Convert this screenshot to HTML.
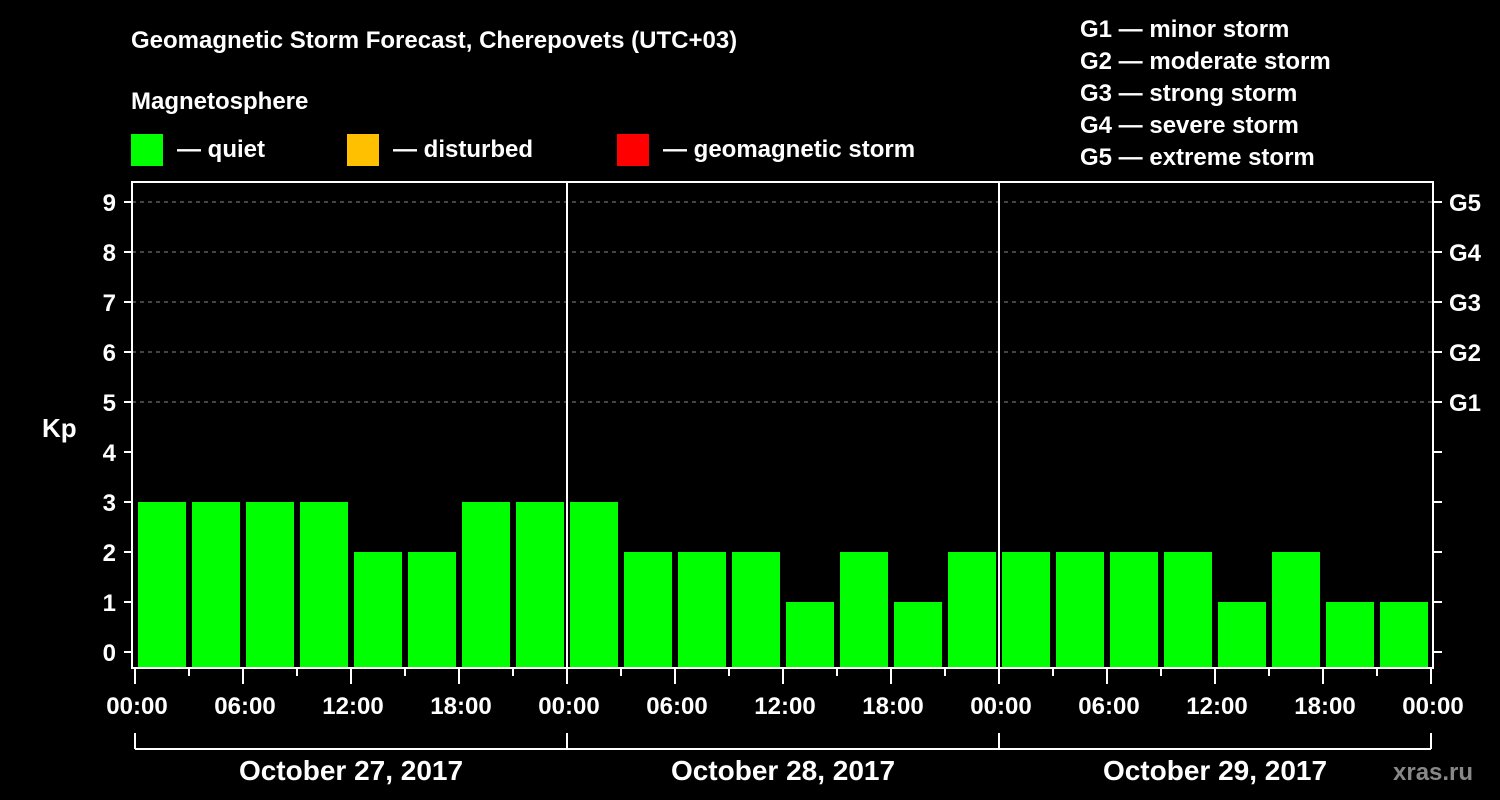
<!DOCTYPE html>
<html><head><meta charset="utf-8"><style>
html,body{margin:0;padding:0;background:#000;}
svg{display:block;font-family:"Liberation Sans",sans-serif;font-weight:bold;}
</style></head><body>
<svg id="chart" width="1500" height="800" xmlns="http://www.w3.org/2000/svg">
<rect width="1500" height="800" fill="#000"/>
<text x="131" y="48" fill="#fff" font-size="24">Geomagnetic Storm Forecast, Cherepovets (UTC+03)</text>
<text x="131" y="109" fill="#fff" font-size="24">Magnetosphere</text>
<g><rect x="131" y="134" width="32" height="32" fill="#00ff00"/><text x="177" y="157" fill="#fff" font-size="24">— quiet</text></g>
<g><rect x="347" y="134" width="32" height="32" fill="#ffc000"/><text x="393" y="157" fill="#fff" font-size="24">— disturbed</text></g>
<g><rect x="617" y="134" width="32" height="32" fill="#ff0000"/><text x="663" y="157" fill="#fff" font-size="24">— geomagnetic storm</text></g>
<g fill="#fff" font-size="24">
<text x="1080" y="37">G1 — minor storm</text>
<text x="1080" y="69">G2 — moderate storm</text>
<text x="1080" y="101">G3 — strong storm</text>
<text x="1080" y="133">G4 — severe storm</text>
<text x="1080" y="165">G5 — extreme storm</text>
</g>
<g id="grid"></g>
<g id="bars"></g>
<g id="axes"></g>
<text x="42" y="437" fill="#fff" font-size="26">Kp</text>
<text x="1393" y="780" fill="#888" font-size="24">xras.ru</text>
</svg>
<script>
const kpValues = [3,3,3,3,2,2,3,3, 3,2,2,2,1,2,1,2, 2,2,2,2,1,2,1,1];
const dayLabels = ["October 27, 2017","October 28, 2017","October 29, 2017"];
const timeLabels = ["00:00","06:00","12:00","18:00"];
const kpTicks = [0,1,2,3,4,5,6,7,8,9];
const gLabels = ["G1","G2","G3","G4","G5"];
const gLevels = [5,6,7,8,9];

const NS="http://www.w3.org/2000/svg";
const X0=135, SLOT=54, L=132, R=1433, T=182, B=668;
const yS=v=>652-50*v;
const xS=i=>X0+i*SLOT;
function mk(tag,attrs,parent,txt){const e=document.createElementNS(NS,tag);for(const k in attrs)e.setAttribute(k,attrs[k]);if(txt!==undefined)e.textContent=txt;parent.appendChild(e);return e;}
const grid=document.getElementById('grid'),bars=document.getElementById('bars'),axes=document.getElementById('axes');
gLevels.forEach((lv,i)=>{
  const l=mk('line',{x1:L,x2:R,y1:yS(lv),y2:yS(lv),stroke:'#888','stroke-dasharray':'4,4','stroke-width':1},grid);
  
  
  const t=mk('text',{x:1449,y:yS(lv)+9,fill:'#fff','font-size':24},axes,gLabels[i]);
  
  
});
kpValues.forEach((v,i)=>{
  const r=mk('rect',{x:xS(i)+3,y:yS(v),width:48,height:B-yS(v),fill:v>=5?'#ff0000':(v>=4?'#ffc000':'#00ff00')},bars);
  
  
});
const frame=mk('rect',{x:L,y:T,width:R-L,height:B-T,fill:'none',stroke:'#fff','stroke-width':2},axes);


for(let d=1;d<dayLabels.length;d++){
  const l=mk('line',{x1:xS(d*8),x2:xS(d*8),y1:T,y2:B,stroke:'#fff','stroke-width':2},axes);
  
  
}
kpTicks.forEach(k=>{
  mk('line',{x1:124,x2:L,y1:yS(k),y2:yS(k),stroke:'#fff','stroke-width':2},axes);
  mk('line',{x1:R,x2:1442,y1:yS(k),y2:yS(k),stroke:'#fff','stroke-width':2},axes);
  const t=mk('text',{x:116,y:yS(k)+9,fill:'#fff','font-size':24,'text-anchor':'end'},axes,String(k));
  
  
});
for(let i=0;i<=kpValues.length;i++){
  const major=i%2===0;
  mk('line',{x1:xS(i),x2:xS(i),y1:B,y2:B+(major?16:8),stroke:'#fff','stroke-width':2},axes);
  if(major){
    const t=mk('text',{x:xS(i)+2,y:714,fill:'#fff','font-size':24,'text-anchor':'middle'},axes,timeLabels[(i/2)%4]);
    
    
  }
}
mk('line',{x1:xS(0),x2:xS(24),y1:749,y2:749,stroke:'#fff','stroke-width':2},axes);
for(let d=0;d<=dayLabels.length;d++) mk('line',{x1:xS(d*8),x2:xS(d*8),y1:733,y2:749,stroke:'#fff','stroke-width':2},axes);
dayLabels.forEach((s,d)=>{
  const t=mk('text',{x:xS(d*8+4),y:780,fill:'#fff','font-size':28,'text-anchor':'middle'},axes,s);
  
  
});
</script>
</body></html>
